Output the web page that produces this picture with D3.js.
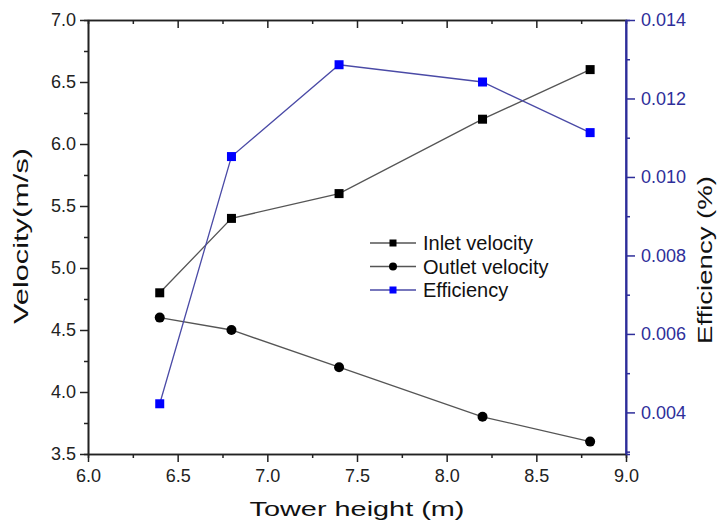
<!DOCTYPE html>
<html>
<head>
<meta charset="utf-8">
<script src="https://cdn.jsdelivr.net/npm/d3@7"></script>
<style>
  body { margin: 0; background: #fff; }
  text { font-family: Arial, "Liberation Sans", sans-serif; }
</style>
</head>
<body>
<div id="chart"></div>
<script>
// tower heights (m)
var heights = [6.4, 6.8, 7.4, 8.2, 8.8];
// velocities (m/s)
var inletVelocity = [4.8, 5.4, 5.6, 6.2, 6.6];
var outletVelocity = [4.6, 4.5, 4.2, 3.8, 3.6];
// efficiency (%)
var efficiency = [0.00422, 0.01052, 0.01286, 0.01242, 0.01113];

var xTicks = [6.0, 6.5, 7.0, 7.5, 8.0, 8.5, 9.0];
var yTicks = [3.5, 4.0, 4.5, 5.0, 5.5, 6.0, 6.5, 7.0];
var effTicks = [0.004, 0.006, 0.008, 0.010, 0.012, 0.014];

var width = 719, height = 524;
var margin = {top: 20, right: 93, bottom: 70, left: 88};
var innerW = width - margin.left - margin.right;   // 538
var innerH = height - margin.top - margin.bottom;  // 434

var axisBlue = "#2e2e9a";

var svg = d3.select("#chart").append("svg")
    .attr("width", width)
    .attr("height", height);

var g = svg.append("g")
    .attr("transform", "translate(" + margin.left + "," + margin.top + ")");

var x = d3.scaleLinear().domain([6.0, 9.0]).range([0, innerW]);
var y = d3.scaleLinear().domain([3.5, 7.0]).range([innerH, 0]);
var yEff = d3.scaleLinear().domain([0.00294, 0.014]).range([innerH, 0]);

//minor ticks first, so the major ones sit on top
function minor(axis, values) {
    return axis.tickValues(values).tickFormat("").tickSizeOuter(0);
}

var xMinor = d3.range(6.25, 9.0, 0.5);
var yMinor = d3.range(3.75, 7.0, 0.5);
var effMinor = [0.003, 0.005, 0.007, 0.009, 0.011, 0.013];

// bottom axis
g.append("g").attr("class", "ax")
    .attr("transform", "translate(0," + innerH + ")")
    .call(minor(d3.axisBottom(x), xMinor).tickSize(4));
g.append("g").attr("class", "ax xmaj")
    .attr("transform", "translate(0," + innerH + ")")
    .call(d3.axisBottom(x).tickValues(xTicks).tickFormat(d3.format(".1f"))
        .tickSize(8).tickSizeOuter(0).tickPadding(7));

// top axis, ticks pointing in
g.append("g").attr("class", "ax")
    .call(minor(d3.axisTop(x), xMinor).tickSize(-4));
g.append("g").attr("class", "ax")
    .call(d3.axisTop(x).tickValues(xTicks.slice(1, -1)).tickFormat("")
        .tickSize(-8).tickSizeOuter(0));

// left axis
g.append("g").attr("class", "ax")
    .call(minor(d3.axisLeft(y), yMinor).tickSize(4));
g.append("g").attr("class", "ax ymaj")
    .call(d3.axisLeft(y).tickValues(yTicks).tickFormat(d3.format(".1f"))
        .tickSize(8).tickSizeOuter(0).tickPadding(4));

// right axis (efficiency)
g.append("g").attr("class", "ax eff")
    .attr("transform", "translate(" + innerW + ",0)")
    .call(minor(d3.axisRight(yEff), effMinor).tickSize(4));
g.append("g").attr("class", "ax eff effmaj")
    .attr("transform", "translate(" + innerW + ",0)")
    .call(d3.axisRight(yEff).tickValues(effTicks).tickFormat(d3.format(".3f"))
        .tickSize(9).tickSizeOuter(0).tickPadding(6));

svg.selectAll(".ax path").attr("stroke", "#222").attr("stroke-width", 1.6);
svg.selectAll(".ax line").attr("stroke", "#222").attr("stroke-width", 1.5);
svg.selectAll(".eff path").attr("stroke", axisBlue);
svg.selectAll(".eff line").attr("stroke", axisBlue);
svg.selectAll(".ax text").attr("font-size", 18).attr("fill", "#222");
svg.selectAll(".eff text").attr("fill", axisBlue);

// full-length right axis line on top of the frame
g.append("line")
    .attr("x1", innerW).attr("x2", innerW)
    .attr("y1", 0).attr("y2", innerH)
    .attr("stroke", axisBlue).attr("stroke-width", 1.6);

// axis titles (the source glyphs are drawn wide, so fit them to the measured length)
function title(t, len) {
    t.attr("text-anchor", "middle")
     .attr("font-size", 21)
     .attr("fill", "#111")
     .attr("textLength", len)
     .attr("lengthAdjust", "spacingAndGlyphs");
}

svg.append("text")
    .attr("x", margin.left + innerW / 2)
    .attr("y", 516)
    .call(title, 215)
    .text("Tower height (m)");

svg.append("text")
    .attr("transform", "translate(28,236) rotate(-90)")
    .call(title, 176)
    .text("Velocity(m/s)");

svg.append("text")
    .attr("transform", "translate(712,260) rotate(-90)")
    .call(title, 168)
    .text("Efficiency (%)");

// series
var series = [
    {name: "Inlet velocity", values: inletVelocity, scale: y, line: "#555", fill: "#000", shape: "square"},
    {name: "Outlet velocity", values: outletVelocity, scale: y, line: "#555", fill: "#000", shape: "circle"},
    {name: "Efficiency", values: efficiency, scale: yEff, line: "#4a4aa6", fill: "#0000ff", shape: "square"}
];

series.forEach(function(s) {
    var pts = heights.map(function(h, i) { return [h, s.values[i]]; });
    g.append("path")
        .datum(pts)
        .attr("fill", "none")
        .attr("stroke", s.line)
        .attr("stroke-width", 1.3)
        .attr("d", d3.line()
            .x(function(d) { return x(d[0]); })
            .y(function(d) { return s.scale(d[1]); }));
    drawMarkers(g, pts.map(function(d) { return [x(d[0]), s.scale(d[1])]; }), s, 9);
});

function drawMarkers(parent, coords, s, size) {
    if (s.shape == "square") {
        parent.selectAll(null).data(coords).enter().append("rect")
            .attr("x", function(d) { return d[0] - size / 2; })
            .attr("y", function(d) { return d[1] - size / 2; })
            .attr("width", size).attr("height", size)
            .attr("fill", s.fill);
    } else {
        parent.selectAll(null).data(coords).enter().append("circle")
            .attr("cx", function(d) { return d[0]; })
            .attr("cy", function(d) { return d[1]; })
            .attr("r", size / 2 + 0.5)
            .attr("fill", s.fill);
    }
}

// legend
var legend = svg.append("g").attr("transform", "translate(370,243)");
series.forEach(function(s, i) {
    var row = legend.append("g").attr("transform", "translate(0," + (i * 23.5) + ")");
    row.append("line")
        .attr("x1", 0).attr("x2", 46)
        .attr("stroke", s.line).attr("stroke-width", 1.3);
    drawMarkers(row, [[23, 0]], s, 7);
    row.append("text")
        .attr("x", 53)
        .attr("dy", "0.35em")
        .attr("font-size", 20)
        .attr("fill", "#111")
        .text(s.name);
});
</script>
</body>
</html>
